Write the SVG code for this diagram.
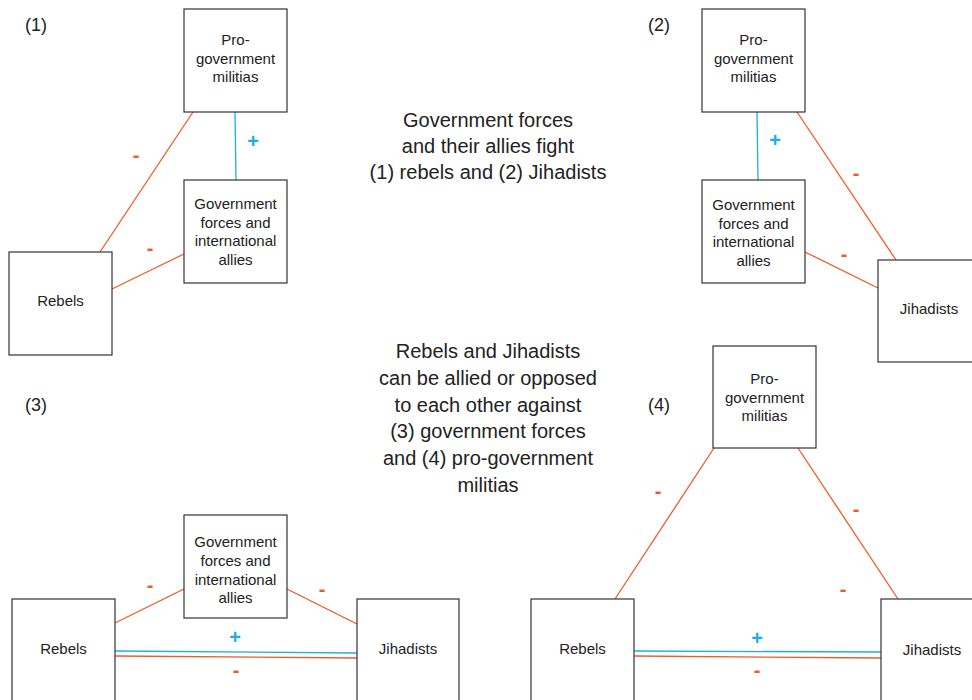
<svg xmlns="http://www.w3.org/2000/svg" width="972" height="700" viewBox="0 0 972 700">
<style>
.box{fill:#fff;stroke:#333;stroke-width:1.2}
.nt{font-family:"Liberation Sans",Arial,sans-serif;font-size:15px;fill:#222;text-anchor:middle}
.ct{font-family:"Liberation Sans",Arial,sans-serif;font-size:20px;fill:#222;text-anchor:middle}
.pl{font-family:"Liberation Sans",Arial,sans-serif;font-size:18px;fill:#222}
.r{stroke:#f05a28;stroke-width:1.3;fill:none}
.b{stroke:#1daee6;stroke-width:1.3;fill:none}
.lr{font-family:"Liberation Sans",Arial,sans-serif;font-size:20px;font-weight:bold;fill:#f05a28;text-anchor:middle}
.lb{font-family:"Liberation Sans",Arial,sans-serif;font-size:20px;font-weight:bold;fill:#1daee6;text-anchor:middle}
</style>
<rect width="972" height="700" fill="#fff"/>
<g id="connectors">
<line class="r" x1="193" y1="112" x2="100" y2="252"/>
<line class="b" x1="235" y1="112" x2="236" y2="180"/>
<line class="r" x1="112" y1="289" x2="184" y2="254"/>
<line class="b" x1="757" y1="112" x2="758" y2="180"/>
<line class="r" x1="797" y1="112" x2="896" y2="260"/>
<line class="r" x1="805" y1="252" x2="878" y2="288"/>
<line class="r" x1="115" y1="623" x2="184" y2="589"/>
<line class="r" x1="287" y1="589" x2="357" y2="624"/>
<line class="b" x1="115" y1="651" x2="357" y2="653"/>
<line class="r" x1="115" y1="656" x2="357" y2="658"/>
<line class="r" x1="714" y1="448" x2="615" y2="599"/>
<line class="r" x1="798" y1="448" x2="898" y2="599"/>
<line class="b" x1="634" y1="651" x2="881" y2="652"/>
<line class="r" x1="634" y1="656" x2="881" y2="658"/>
</g>
<g id="edge-labels">
<text class="lb" x="253" y="148">+</text>
<text class="lr" x="136" y="162">-</text>
<text class="lr" x="150" y="255">-</text>
<text class="lb" x="775" y="147">+</text>
<text class="lr" x="856" y="180">-</text>
<text class="lr" x="844" y="261">-</text>
<text class="lb" x="235" y="644">+</text>
<text class="lr" x="236" y="677">-</text>
<text class="lr" x="150" y="592">-</text>
<text class="lr" x="322" y="596">-</text>
<text class="lb" x="757" y="645">+</text>
<text class="lr" x="757" y="677">-</text>
<text class="lr" x="658" y="498">-</text>
<text class="lr" x="856" y="516">-</text>
<text class="lr" x="843" y="596">-</text>
</g>
<g id="panel-labels">
<text class="pl" x="25" y="31">(1)</text>
<text class="pl" x="648" y="31">(2)</text>
<text class="pl" x="25" y="411">(3)</text>
<text class="pl" x="648" y="411">(4)</text>
</g>
<g id="caption1">
<text class="ct" x="488" y="127">Government forces</text>
<text class="ct" x="488" y="153">and their allies fight</text>
<text class="ct" x="488" y="179">(1) rebels and (2) Jihadists</text>
</g>
<g id="caption2">
<text class="ct" x="488" y="358">Rebels and Jihadists</text>
<text class="ct" x="488" y="385">can be allied or opposed</text>
<text class="ct" x="488" y="412">to each other against</text>
<text class="ct" x="488" y="438">(3) government forces</text>
<text class="ct" x="488" y="465">and (4) pro-government</text>
<text class="ct" x="488" y="492">militias</text>
</g>
<g id="p1-militias">
<rect class="box" x="184" y="9" width="103" height="103"/>
<text class="nt" x="235.5" y="45">Pro-</text>
<text class="nt" x="235.5" y="63.5">government</text>
<text class="nt" x="235.5" y="82">militias</text>
</g>
<g id="p1-government">
<rect class="box" x="184" y="180" width="103" height="103"/>
<text class="nt" x="235.5" y="209">Government</text>
<text class="nt" x="235.5" y="227.5">forces and</text>
<text class="nt" x="235.5" y="246">international</text>
<text class="nt" x="235.5" y="264.5">allies</text>
</g>
<g id="p1-rebels">
<rect class="box" x="9" y="252" width="103" height="103"/>
<text class="nt" x="60.5" y="306">Rebels</text>
</g>
<g id="p2-militias">
<rect class="box" x="702" y="9" width="103" height="103"/>
<text class="nt" x="753.5" y="45">Pro-</text>
<text class="nt" x="753.5" y="63.5">government</text>
<text class="nt" x="753.5" y="82">militias</text>
</g>
<g id="p2-government">
<rect class="box" x="702" y="180" width="103" height="103"/>
<text class="nt" x="753.5" y="210">Government</text>
<text class="nt" x="753.5" y="228.5">forces and</text>
<text class="nt" x="753.5" y="247">international</text>
<text class="nt" x="753.5" y="265.5">allies</text>
</g>
<g id="p2-jihadists">
<rect class="box" x="878" y="260" width="103" height="102"/>
<text class="nt" x="929" y="314">Jihadists</text>
</g>
<g id="p3-government">
<rect class="box" x="184" y="515" width="103" height="103"/>
<text class="nt" x="235.5" y="547">Government</text>
<text class="nt" x="235.5" y="566">forces and</text>
<text class="nt" x="235.5" y="585">international</text>
<text class="nt" x="235.5" y="603">allies</text>
</g>
<g id="p3-rebels">
<rect class="box" x="12" y="599" width="103" height="103"/>
<text class="nt" x="63.5" y="654">Rebels</text>
</g>
<g id="p3-jihadists">
<rect class="box" x="357" y="599" width="102" height="103"/>
<text class="nt" x="408" y="654">Jihadists</text>
</g>
<g id="p4-militias">
<rect class="box" x="713" y="346" width="103" height="102"/>
<text class="nt" x="764.5" y="384">Pro-</text>
<text class="nt" x="764.5" y="403">government</text>
<text class="nt" x="764.5" y="421">militias</text>
</g>
<g id="p4-rebels">
<rect class="box" x="531" y="599" width="103" height="103"/>
<text class="nt" x="582.5" y="654">Rebels</text>
</g>
<g id="p4-jihadists">
<rect class="box" x="881" y="599" width="103" height="103"/>
<text class="nt" x="932" y="655">Jihadists</text>
</g>
</svg>
